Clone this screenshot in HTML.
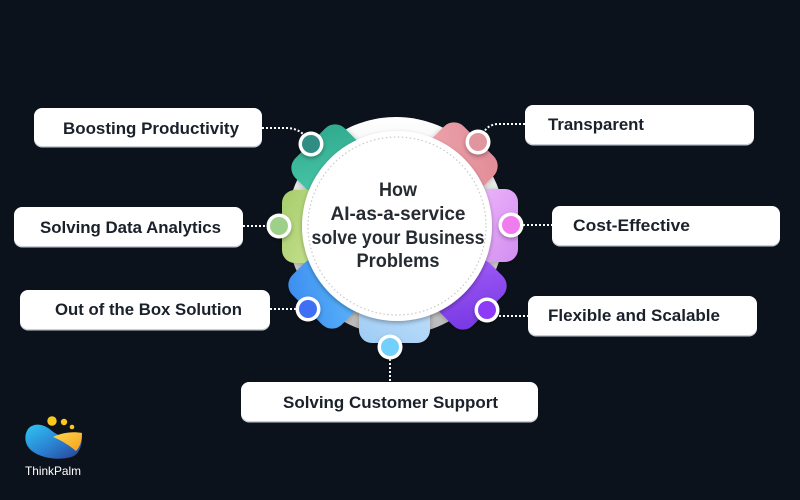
<!DOCTYPE html>
<html>
<head>
<meta charset="utf-8">
<style>
html,body{margin:0;padding:0;background:#0c121b;}
svg{display:block;}
text{font-family:"Liberation Sans",Arial,sans-serif;font-weight:bold;}
</style>
</head>
<body>
<svg width="800" height="500" viewBox="0 0 800 500" xmlns="http://www.w3.org/2000/svg">
<defs>
  <linearGradient id="ring" x1="0" y1="0" x2="0" y2="1">
    <stop offset="0" stop-color="#ffffff"/>
    <stop offset="0.55" stop-color="#dcdcdc"/>
    <stop offset="1" stop-color="#b9b9b9"/>
  </linearGradient>
  <linearGradient id="gTeal" x1="0" y1="0" x2="1" y2="1"><stop offset="0" stop-color="#4cc8a8"/><stop offset="1" stop-color="#2ea88d"/></linearGradient>
  <linearGradient id="gPink" x1="0" y1="0" x2="1" y2="1"><stop offset="0" stop-color="#eea6ad"/><stop offset="1" stop-color="#e08a96"/></linearGradient>
  <linearGradient id="gGreen" x1="0" y1="0" x2="1" y2="1"><stop offset="0" stop-color="#c8e290"/><stop offset="1" stop-color="#a6cd6c"/></linearGradient>
  <linearGradient id="gMag" x1="0" y1="0" x2="1" y2="1"><stop offset="0" stop-color="#efb8fb"/><stop offset="1" stop-color="#d28ef0"/></linearGradient>
  <linearGradient id="gBlue" x1="0" y1="0" x2="1" y2="1"><stop offset="0" stop-color="#5cb8fb"/><stop offset="1" stop-color="#3b8bef"/></linearGradient>
  <linearGradient id="gPurp" x1="0" y1="0" x2="1" y2="1"><stop offset="0" stop-color="#a05cf7"/><stop offset="1" stop-color="#7536e2"/></linearGradient>
  <linearGradient id="gLBlue" x1="0" y1="0" x2="1" y2="1"><stop offset="0" stop-color="#c0e0fb"/><stop offset="1" stop-color="#9ecbf4"/></linearGradient>
  <linearGradient id="logoBlue" x1="0" y1="0" x2="1" y2="1">
    <stop offset="0" stop-color="#2fc6f4"/><stop offset="0.55" stop-color="#2a7fd0"/><stop offset="1" stop-color="#283f8f"/>
  </linearGradient>
  <linearGradient id="logoYel" x1="0" y1="0" x2="1" y2="1">
    <stop offset="0" stop-color="#ffd84a"/><stop offset="1" stop-color="#f4a020"/>
  </linearGradient>
  <filter id="sh" x="-20%" y="-20%" width="140%" height="140%">
    <feDropShadow dx="0" dy="2" stdDeviation="2" flood-color="#000" flood-opacity="0.3"/>
  </filter>
  <filter id="sh2" x="-20%" y="-20%" width="140%" height="140%">
    <feDropShadow dx="0" dy="1" stdDeviation="3" flood-color="#000" flood-opacity="0.25"/>
  </filter>
</defs>

<rect width="800" height="500" fill="#0c121b"/>

<!-- connectors -->
<g fill="none" stroke="#ffffff" stroke-width="2" stroke-dasharray="2 2">
  <path d="M262,128 L288,128 Q299,129 305,136"/>
  <path d="M525,124 L497,124 Q488,125 484,132"/>
  <path d="M243,226 L267,226"/>
  <path d="M523,225 L552,225"/>
  <path d="M270,309 L296,309"/>
  <path d="M499,316 L528,316"/>
  <path d="M390,359 L390,382"/>
</g>

<!-- outer ring -->
<circle cx="396" cy="226" r="109" fill="url(#ring)"/>

<!-- petals -->
<g filter="url(#sh2)">
  <rect transform="translate(311,144) rotate(-135)" x="-44" y="-35" width="45" height="70" rx="14" fill="url(#gTeal)"/>
  <rect transform="translate(478,142) rotate(-45)" x="-44" y="-35" width="45" height="70" rx="14" fill="url(#gPink)"/>
  <rect transform="translate(279,226) rotate(180)" x="-42" y="-37" width="39" height="73" rx="13" fill="url(#gGreen)"/>
  <rect transform="translate(511,225) rotate(0)" x="-42" y="-36" width="49" height="73" rx="13" fill="url(#gMag)"/>
  <rect transform="translate(308,309) rotate(135)" x="-44" y="-35" width="45" height="70" rx="14" fill="url(#gBlue)"/>
  <rect transform="translate(487,310) rotate(45)" x="-44" y="-35" width="45" height="70" rx="14" fill="url(#gPurp)"/>
  <rect transform="translate(390,347) rotate(90)" x="-46" y="-40" width="42" height="71" rx="13" fill="url(#gLBlue)"/>
</g>

<!-- inner white circle -->
<circle cx="397" cy="226" r="95" fill="#ffffff" filter="url(#sh)"/>
<circle cx="397" cy="226" r="89" fill="none" stroke="#c9c9c9" stroke-width="1.2" stroke-dasharray="1.5 2.5"/>

<!-- dots -->
<g filter="url(#sh)">
  <circle cx="311" cy="144" r="12.5" fill="#fff"/>
  <circle cx="478" cy="142" r="12.5" fill="#fff"/>
  <circle cx="279" cy="226" r="12.5" fill="#fff"/>
  <circle cx="511" cy="225" r="12.5" fill="#fff"/>
  <circle cx="308" cy="309" r="12.5" fill="#fff"/>
  <circle cx="487" cy="310" r="12.5" fill="#fff"/>
  <circle cx="390" cy="347" r="12.5" fill="#fff"/>
</g>
<circle cx="311" cy="144" r="9" fill="#2f8d84"/>
<circle cx="478" cy="142" r="9" fill="#e0959f"/>
<circle cx="279" cy="226" r="9" fill="#9fd08a"/>
<circle cx="511" cy="225" r="9" fill="#f07cf0"/>
<circle cx="308" cy="309" r="9" fill="#3f6ff3"/>
<circle cx="487" cy="310" r="9" fill="#8d3bf6"/>
<circle cx="390" cy="347" r="9" fill="#72d0fc"/>

<!-- center text -->
<g fill="#262b31" font-size="19" text-anchor="middle">
  <text x="398" y="196" textLength="38" lengthAdjust="spacingAndGlyphs">How</text>
  <text x="398" y="220" textLength="135" lengthAdjust="spacingAndGlyphs">AI-as-a-service</text>
  <text x="398" y="244" textLength="173" lengthAdjust="spacingAndGlyphs">solve your Business</text>
  <text x="398" y="267" textLength="83" lengthAdjust="spacingAndGlyphs">Problems</text>
</g>

<!-- boxes -->
<g fill="#c9ced6">
  <rect x="34" y="109.5" width="228" height="38" rx="8"/>
  <rect x="14" y="208.5" width="229" height="39" rx="8"/>
  <rect x="20" y="291.5" width="250" height="39" rx="8"/>
  <rect x="525" y="106.5" width="229" height="39" rx="8"/>
  <rect x="552" y="207.5" width="228" height="39" rx="8"/>
  <rect x="528" y="297.5" width="229" height="39" rx="8"/>
  <rect x="241" y="383.5" width="297" height="39" rx="8"/>
</g>
<g fill="#ffffff">
  <rect x="34" y="108" width="228" height="38" rx="8"/>
  <rect x="14" y="207" width="229" height="39" rx="8"/>
  <rect x="20" y="290" width="250" height="39" rx="8"/>
  <rect x="525" y="105" width="229" height="39" rx="8"/>
  <rect x="552" y="206" width="228" height="39" rx="8"/>
  <rect x="528" y="296" width="229" height="39" rx="8"/>
  <rect x="241" y="382" width="297" height="39" rx="8"/>
</g>

<g fill="#1a212b" font-size="17">
  <text x="63" y="134" textLength="176" lengthAdjust="spacingAndGlyphs">Boosting Productivity</text>
  <text x="40" y="233" textLength="181" lengthAdjust="spacingAndGlyphs">Solving Data Analytics</text>
  <text x="55" y="315" textLength="187" lengthAdjust="spacingAndGlyphs">Out of the Box Solution</text>
  <text x="548" y="130" textLength="96" lengthAdjust="spacingAndGlyphs">Transparent</text>
  <text x="573" y="231" textLength="117" lengthAdjust="spacingAndGlyphs">Cost-Effective</text>
  <text x="548" y="321" textLength="172" lengthAdjust="spacingAndGlyphs">Flexible and Scalable</text>
  <text x="283" y="408" textLength="215" lengthAdjust="spacingAndGlyphs">Solving Customer Support</text>
</g>

<!-- logo -->
<path d="M30,427 C24,432 23,444 32,451 C42,459 62,461 74,456 C80,452 82,445 82,436 C72,440 61,438 52,431 C44,424 36,423 30,427 Z" fill="url(#logoBlue)"/>
<path d="M53,437 C61,433 72,431 82,433 C82,441 80,447 76,451 C70,446 61,440 53,437 Z" fill="url(#logoYel)"/>
<circle cx="52" cy="421" r="4.7" fill="#f9c81e"/>
<circle cx="64" cy="422" r="3.2" fill="#f9c81e"/>
<circle cx="72" cy="427" r="2.3" fill="#f9c81e"/>
<text x="25" y="475" fill="#ffffff" font-size="12" textLength="56" lengthAdjust="spacingAndGlyphs" style="font-weight:normal">ThinkPalm</text>
</svg>
</body>
</html>
